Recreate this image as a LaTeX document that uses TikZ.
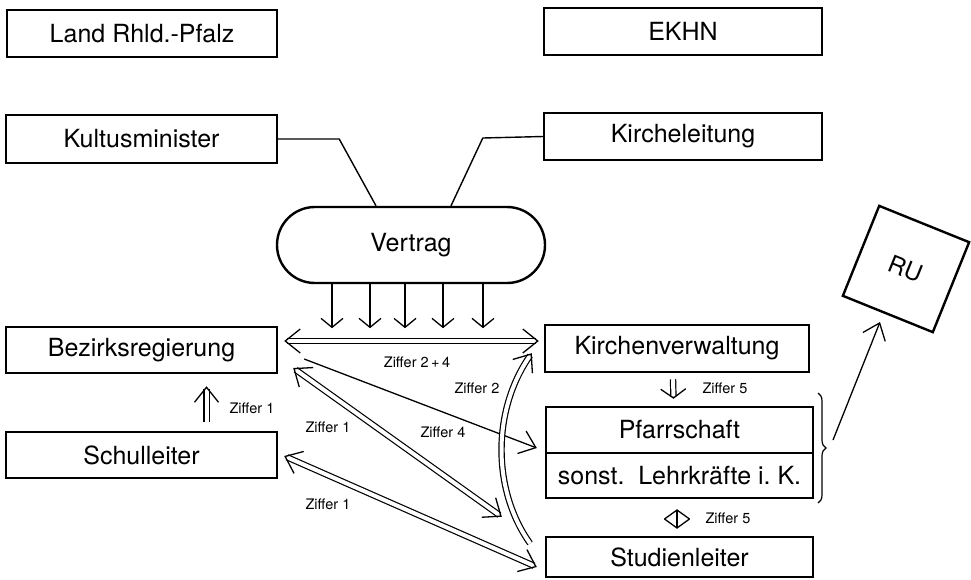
\documentclass[tikz,border=0pt]{standalone}
\usepackage{fontspec}
\setmainfont{TeX Gyre Heros}
\usetikzlibrary{arrows.meta, calc, decorations.pathreplacing, decorations.markings}
\begin{document}
\begin{tikzpicture}[x=1pt, y=-1pt,
  box/.style={draw, line width=2.4pt, rectangle, inner sep=0pt, font=\fontsize{25}{29}\selectfont},
  lbl/.style={font=\fontsize{14.5}{17}\selectfont, inner sep=0pt},
  tipA/.tip={Straight Barb[length=9pt, width=22pt, line width=1.3pt]},
  tipC/.tip={Straight Barb[length=9pt, width=25pt, line width=1.3pt]},
  tipB/.tip={Straight Barb[length=15pt, width=24pt, line width=1.3pt]},
  conn/.style={line width=1.4pt},
  sarr/.style={line width=1.3pt, -tipB},
  dbl/.style 2 args={preaction={draw, line width=1.2pt, double, double distance=4pt, shorten <=#1, shorten >=#2}},
  mkend/.style={postaction={decorate, decoration={markings, mark=at position 1 with {\arrow[black, line width=1.3pt]{#1}}}}},
  mkstart/.style={postaction={decorate, decoration={markings, mark=at position 0 with {\arrowreversed[black, line width=1.3pt]{#1}}}}},
]
\useasboundingbox (0,0) rectangle (971,579);

% boxes
\node[box, minimum width=270pt, minimum height=47pt] (land) at (142,33.5) {Land Rhld.-Pfalz};
\node[box, minimum width=278pt, minimum height=47pt] (ekhn) at (683,31.5) {EKHN};
\node[box, minimum width=271pt, minimum height=48pt] (kultus) at (141.5,139) {Kultusminister};
\node[box, minimum width=278pt, minimum height=47pt] (kirche) at (683,136.5) {Kircheleitung};
\node[box, rounded corners=37.9pt, minimum width=268pt, minimum height=76pt] (vertrag) at (411,245) {Vertrag};
\node[box, minimum width=271pt, minimum height=46pt] (bez) at (141.5,350) {Bezirksregierung};
\node[box, minimum width=271pt, minimum height=46pt] (schul) at (141.5,455) {Schulleiter};
\node[box, minimum width=264pt, minimum height=47pt] (kv) at (677,348.5) {Kirchenverwaltung};
\node[box, minimum width=267pt, minimum height=46pt] (pfarr) at (679.5,430) {Pfarrschaft};
\node[box, minimum width=267pt, minimum height=45pt] (sonst) at (679.5,475.5) {sonst.\ \ Lehrkräfte\ i.\ K.};
\node[box, minimum width=267pt, minimum height=40pt] (stud) at (679.5,557) {Studienleiter};
\node[box, rotate=-22, minimum size=97pt, font=\fontsize{24}{28}\selectfont] (ru) at (906,269) {RU};

% contract lines
\draw[conn] (kultus.east) -- ++(61,0) -- ([xshift=-35pt]vertrag.north);
\draw[conn] (kirche.west) -- ++(-60,1.5) -- ([xshift=40pt]vertrag.north);

% down arrows from Vertrag
\foreach \dx in {-79,-41,-6,32,72}
  \draw[line width=1.3pt, -tipA] ([xshift=\dx pt]vertrag.south) -- ++(0,44);

% arrows
\path[dbl={3pt}{3pt}, mkstart=tipB, mkend=tipB] ($(bez.east)+(6,-9)$) -- ($(kv.west)+(-5,-7.5)$);
\node[lbl] (z24) at (417,362) {Ziffer 2\,+\,4};

\draw[sarr] ($(bez.east)+(26,9)$) -- ($(pfarr.west)+(-8,18)$);
\node[lbl] (z4) at (443,432) {Ziffer 4};

\path[dbl={3pt}{3pt}, mkstart=tipB, mkend=tipB] ($(bez.east)+(15,18)$) -- ($(stud.north west)+(-43,-19)$);
\node[lbl] (z1a) at (328,427) {Ziffer 1};

\path[dbl={3pt}{3pt}, mkstart=tipB, mkend=tipB] ($(schul.east)+(6,1)$) -- ($(stud.west)+(-8,10)$);
\node[lbl] (z1b) at (328,504) {Ziffer 1};

\path[dbl={3pt}{3pt}, mkstart=tipB, mkend=tipB] ($(kv.south west)+(-12,-20)$) .. controls (492,410) and (492,490) .. ($(stud.north west)+(-13,10)$);
\node[lbl] (z2) at (477,388) {Ziffer 2};

\path[dbl={0pt}{3pt}, mkend=tipB] ($(schul.north)+(65,-9)$) -- ($(bez.south)+(65,12)$);
\node[lbl] (z1c) at (252,408) {Ziffer 1};

\path[dbl={0pt}{2.5pt}, mkend=tipC] ($(kv.south)+(-4,6)$) -- ($(pfarr.north)+(-6,-7)$);
\node[lbl] (z5a) at (725,388) {Ziffer 5};

\draw[line width=1.3pt, tipC-tipC] ($(sonst.south)+(-2.5,10)$) -- ($(stud.north)+(-2.5,-7)$);
\node[lbl] (z5b) at (728,518) {Ziffer 5};

% brace and RU arrow
\draw[line width=1.2pt, decorate, decoration={brace, amplitude=8pt}] (818,393) -- (818,503);
\coordinate (bracetip) at (833,440);
\coordinate (rutip) at (880,322);
\draw[sarr] (bracetip) -- (rutip);
\end{tikzpicture}
\end{document}
